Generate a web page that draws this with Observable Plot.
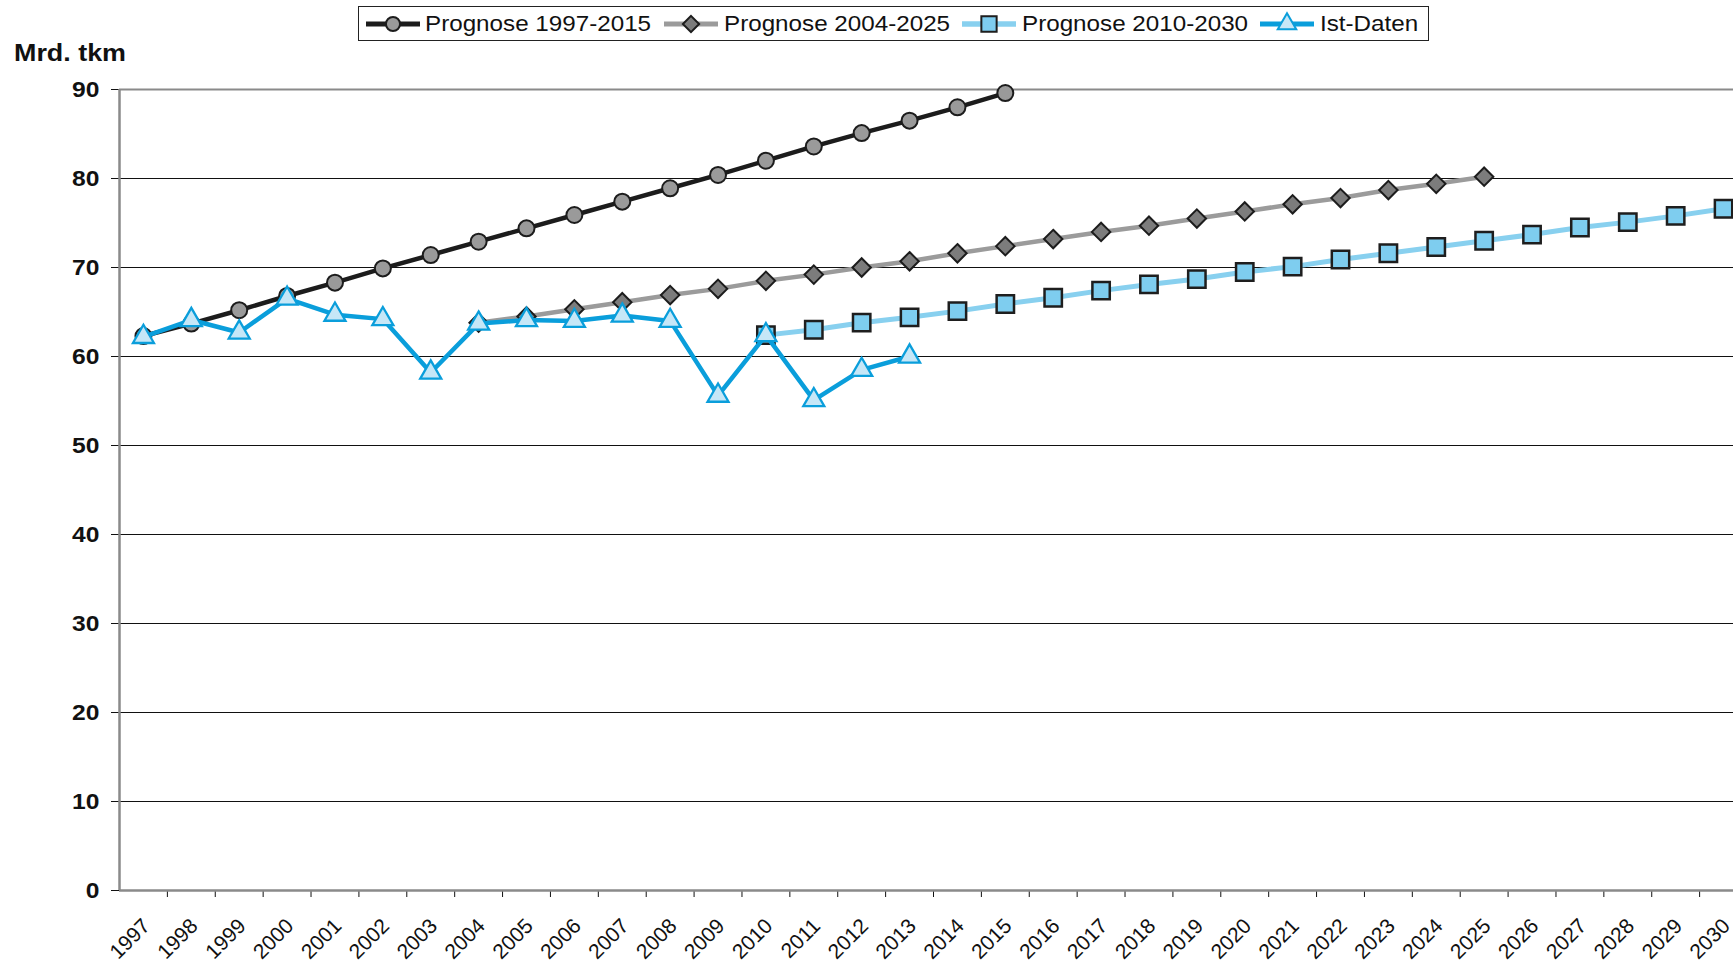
<!DOCTYPE html>
<html>
<head>
<meta charset="utf-8">
<script src="https://cdn.jsdelivr.net/npm/d3@7"></script>
<script src="https://cdn.jsdelivr.net/npm/@observablehq/plot@0.6"></script>
<style>
  html, body { margin: 0; padding: 0; background: #fff; overflow: hidden; }
  #wrap { position: relative; width: 1733px; height: 968px; font-family: "Liberation Sans", Arial, Helvetica, sans-serif; }
  #chart { position: absolute; left: 0; top: 0; }
  #ylab { position: absolute; left: 14px; top: 41px; font-size: 24px; line-height: 24px; font-weight: bold; color: #111; transform: scaleX(1.12); transform-origin: left center; white-space: nowrap; }
  #legend { position: absolute; left: 358px; top: 6px; width: 1069px; height: 33px; border: 1.5px solid #222; background: #fff; }
  .item { position: absolute; top: 0; height: 33px; }
  .item svg { position: absolute; top: 6px; left: 0; }
  .item span { position: absolute; top: 6px; font-size: 22px; line-height: 22px; color: #111; white-space: nowrap; transform: scaleX(1.1); transform-origin: left center; }
</style>
</head>
<body>
<div id="wrap">
  <div id="chart"></div>
  <div id="ylab">Mrd. tkm</div>
  <div id="legend"></div>
</div>
<script>
// ---- Data ----
const yearsAll = [1997,1998,1999,2000,2001,2002,2003,2004,2005,2006,2007,2008,2009,2010,2011,2012,2013,2014,2015,2016,2017,2018,2019,2020,2021,2022,2023,2024,2025,2026,2027,2028,2029,2030];

const yearsP1 = [1997,1998,1999,2000,2001,2002,2003,2004,2005,2006,2007,2008,2009,2010,2011,2012,2013,2014,2015];
const valuesP1 = [62.3,63.7,65.2,66.8,68.3,69.9,71.4,72.9,74.4,75.9,77.4,78.9,80.4,82.0,83.6,85.1,86.5,88.0,89.6];

const yearsP2 = [2004,2005,2006,2007,2008,2009,2010,2011,2012,2013,2014,2015,2016,2017,2018,2019,2020,2021,2022,2023,2024,2025];
const valuesP2 = [63.8,64.5,65.3,66.1,66.9,67.6,68.5,69.2,70.0,70.7,71.6,72.4,73.2,74.0,74.7,75.5,76.3,77.1,77.8,78.7,79.4,80.2];

const yearsP3 = [2010,2011,2012,2013,2014,2015,2016,2017,2018,2019,2020,2021,2022,2023,2024,2025,2026,2027,2028,2029,2030];
const valuesP3 = [62.4,63.0,63.8,64.4,65.1,65.9,66.6,67.4,68.1,68.7,69.5,70.1,70.9,71.6,72.3,73.0,73.7,74.5,75.1,75.8,76.6];

const yearsIst = [1997,1998,1999,2000,2001,2002,2003,2004,2005,2006,2007,2008,2009,2010,2011,2012,2013];
const valuesIst = [62.2,64.1,62.7,66.5,64.7,64.2,58.2,63.7,64.1,64.0,64.6,64.0,55.6,62.4,55.1,58.5,60.0];

const yTicks = [0,10,20,30,40,50,60,70,80,90];
const gridValues = [10,20,30,40,50,60,70,80];
const seriesNames = ["Prognose 1997-2015","Prognose 2004-2025","Prognose 2010-2030","Ist-Daten"];

const toRows = (ys, vs) => ys.map((y, i) => ({year: y, value: vs[i]}));
const p1 = toRows(yearsP1, valuesP1);
const p2 = toRows(yearsP2, valuesP2);
const p3 = toRows(yearsP3, valuesP3);
const ist = toRows(yearsIst, valuesIst);
const xTicks = yearsAll.slice(0, -1).map(y => y + 0.5);

// ---- Styles ----
const S = {
  p1: {line: "#1c1c1c", lw: 4.5, fill: "#9a9a9a", stroke: "#1c1c1c", symbol: "circle", r: 8, sw: 2},
  p2: {line: "#9b9b9b", lw: 4.5, fill: "#7c7c7c", stroke: "#1c1c1c", symbol: "diamond2", r: 8.3, sw: 2},
  p3: {line: "#88d0ef", lw: 5, fill: "#7ecdef", stroke: "#1e1e1e", symbol: "square", r: 9.8, sw: 2.5},
  ist: {line: "#0a9edb", lw: 4.5, fill: "#c6e7f7", stroke: "#0a9edb", symbol: "triangle", r: 7.8, sw: 2.3}
};

function series(data, s) {
  return [
    Plot.line(data, {x: "year", y: "value", stroke: s.line, strokeWidth: s.lw, strokeLinejoin: "round"}),
    Plot.dot(data, {x: "year", y: "value", r: s.r, symbol: s.symbol, fill: s.fill, stroke: s.stroke, strokeWidth: s.sw})
  ];
}

const plot = Plot.plot({
  width: 1733,
  height: 968,
  marginLeft: 119,
  marginRight: 0,
  marginTop: 89,
  marginBottom: 78,
  x: {domain: [1996.5, 2030.5], range: [119, 1747], axis: null},
  y: {domain: [0, 90], range: [890, 89], axis: null},
  style: {fontFamily: "'Liberation Sans', Arial, sans-serif", background: "white", color: "#111"},
  marks: [
    Plot.ruleY(gridValues, {stroke: "#111", strokeWidth: 1}),
    Plot.ruleY([90], {stroke: "#8a8a8a", strokeWidth: 2}),
    Plot.axisY({ticks: yTicks, tickSize: 8, tickPadding: 12, fontSize: 22, fontWeight: "bold", label: null, stroke: "#111"}),
    Plot.axisX({ticks: xTicks, tickSize: 7, tickFormat: () => "", label: null, stroke: "#111"}),
    Plot.ruleY([0], {stroke: "#8a8a8a", strokeWidth: 2.5}),
    Plot.ruleX([1996.5], {y1: 0, y2: 90, stroke: "#8a8a8a", strokeWidth: 2.5}),
    Plot.text(yearsAll, {x: d => d, y: 0, text: d => String(d), rotate: -45, textAnchor: "end", dx: 3, dy: 32, fontSize: 21, fill: "#111"}),
    ...series(p1, S.p1),
    ...series(p2, S.p2),
    ...series(p3, S.p3),
    ...series(ist, S.ist)
  ]
});
document.getElementById("chart").appendChild(plot);

// widen y tick labels like the reference's wide bold face
plot.querySelectorAll('g[aria-label="y-axis tick label"] text').forEach(t => {
  const tr = t.getAttribute("transform") || "";
  t.setAttribute("transform", tr + " scale(1.12,1)");
});

// ---- Legend ----
const legend = document.getElementById("legend");
const legendKeys = [S.p1, S.p2, S.p3, S.ist];
const sampleLeft = [6, 304, 602, 900];
const textLeft = [66, 365, 663, 961];
const symMap = {circle: d3.symbolCircle, diamond2: d3.symbolDiamond2, square: d3.symbolSquare, triangle: d3.symbolTriangle};
legendKeys.forEach((s, i) => {
  const item = document.createElement("div");
  item.className = "item";
  item.style.left = "0px";
  const svg = d3.create("svg").attr("width", 58).attr("height", 22)
    .style("left", sampleLeft[i] + "px").style("overflow", "visible");
  svg.append("line").attr("x1", 1).attr("x2", 55).attr("y1", 11).attr("y2", 11)
    .attr("stroke", s.line).attr("stroke-width", s.lw + 0.5);
  const lr = s.r * 0.88;
  svg.append("path").attr("transform", "translate(28,11)")
    .attr("d", d3.symbol(symMap[s.symbol], lr * lr * Math.PI)())
    .attr("fill", s.fill).attr("stroke", s.stroke).attr("stroke-width", 2);
  item.appendChild(svg.node());
  const span = document.createElement("span");
  span.textContent = seriesNames[i];
  span.style.left = textLeft[i] + "px";
  item.appendChild(span);
  legend.appendChild(item);
});
</script>
</body>
</html>
